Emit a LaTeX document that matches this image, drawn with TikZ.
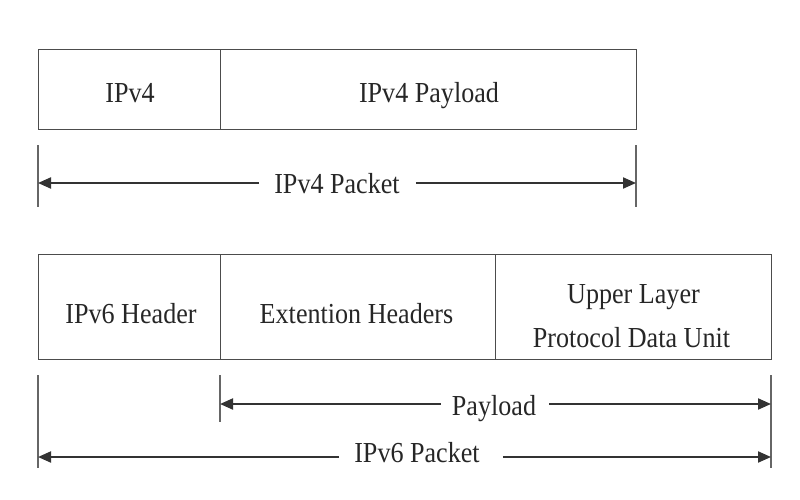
\documentclass[tikz,border=0pt]{standalone}
\usepackage{fontspec}
\setmainfont{Liberation Serif}
\newfontfamily\reftf[FakeStretch=0.9]{Liberation Serif}
\usetikzlibrary{arrows.meta}
\begin{document}
\begin{tikzpicture}[x=1pt,y=-1pt,
  field/.style={draw=black!70,line width=1.3pt,inner sep=0pt,anchor=north west},
  txt/.style={font=\reftf\fontsize{29}{30}\selectfont,text=black!85,inner sep=0pt,anchor=base},
  tick/.style={draw=black!60,line width=1.4pt},
  dim/.style={draw=black!80,line width=2pt,-{Triangle[length=13pt,width=11pt]}}]
\useasboundingbox (0,0) rectangle (800,500);
% IPv4 row
\node[field,minimum width=182pt,minimum height=80pt] (v4h) at (38,49) {};
\node[field,minimum width=416pt,minimum height=80pt] (v4p) at (220,49) {};
\node[txt] (v4ht) at (130,103) {IPv4};
\node[txt] (v4pt) at (429,103) {IPv4 Payload};
% IPv6 row
\node[field,minimum width=182pt,minimum height=105pt] (v6h) at (38,254) {};
\node[field,minimum width=275pt,minimum height=105pt] (ext) at (220,254) {};
\node[field,minimum width=276pt,minimum height=105pt] (upl) at (495,254) {};
\node[txt] (v6ht) at (131,323) {IPv6 Header};
\node[txt] (extt) at (356.5,323) {Extention Headers};
\node[txt] (uplt1) at (633.5,303) {Upper Layer};
\node[txt] (uplt2) at (631.5,347) {Protocol Data Unit};
% ticks
\coordinate (t1a) at (38,145); \coordinate (t1b) at (38,207);
\coordinate (t2a) at (636,145); \coordinate (t2b) at (636,207);
\coordinate (t3a) at (38,375); \coordinate (t3b) at (38,468);
\coordinate (t4a) at (220,375); \coordinate (t4b) at (220,422);
\coordinate (t5a) at (771,375); \coordinate (t5b) at (771,468);
\draw[tick] (t1a) -- (t1b);
\draw[tick] (t2a) -- (t2b);
\draw[tick] (t3a) -- (t3b);
\draw[tick] (t4a) -- (t4b);
\draw[tick] (t5a) -- (t5b);
% arrow end points
\coordinate (a1) at (38,183); \coordinate (a2) at (636,183);
\coordinate (a3) at (220,404); \coordinate (a4) at (771,404);
\coordinate (a5) at (38,457); \coordinate (a6) at (771,457);
% labels
\node[txt] (pk4) at (337,193) {IPv4 Packet};
\node[txt] (pl) at (494,415) {Payload};
\node[txt] (pk6) at (417,462) {IPv6 Packet};
\draw[dim] ([xshift=-15pt]pk4.west |- a1) -- (a1);
\draw[dim] ([xshift=16pt]pk4.east |- a2) -- (a2);
\draw[dim] ([xshift=-11pt]pl.west |- a3) -- (a3);
\draw[dim] ([xshift=13pt]pl.east |- a4) -- (a4);
\draw[dim] ([xshift=-15pt]pk6.west |- a5) -- (a5);
\draw[dim] ([xshift=23pt]pk6.east |- a6) -- (a6);
\end{tikzpicture}
\end{document}
